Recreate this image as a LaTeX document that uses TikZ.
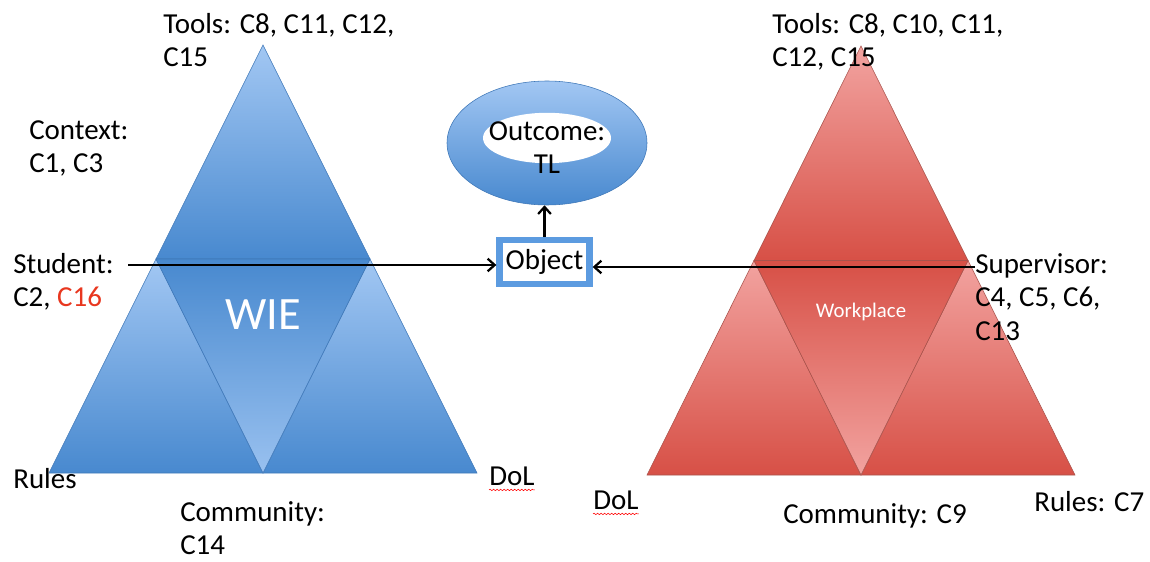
\documentclass[tikz,border=0pt]{standalone}
\usepackage{fontspec}
\setmainfont{Carlito}
\usetikzlibrary{calc,arrows.meta,shapes.geometric,decorations.pathmorphing}

\definecolor{bluetop}{HTML}{A2C7F3}
\definecolor{bluebot}{HTML}{4889CF}
\definecolor{blueedge}{HTML}{3F78B8}
\definecolor{redtop}{HTML}{F2A3A0}
\definecolor{redbot}{HTML}{D75046}
\definecolor{rededge}{HTML}{A9534C}
\definecolor{objblue}{HTML}{5C9BE0}
\definecolor{hotred}{HTML}{E8371F}

\tikzset{
    txt/.style={anchor=north west, inner sep=0pt, align=left, font=\fontsize{20.6pt}{23.8pt}\selectfont},
    bluepart/.style={draw=blueedge, line width=0.4pt, top color=bluetop, bottom color=bluebot},
    bluemid/.style={draw=blueedge, line width=0.4pt, top color=bluebot, bottom color=bluetop!90!bluebot},
    redpart/.style={draw=rededge, line width=0.4pt, top color=redtop, bottom color=redbot},
    redmid/.style={draw=rededge, line width=0.4pt, top color=redbot, bottom color=redtop},
    spell/.style={draw=red, line width=0.4pt, decorate, decoration={snake, amplitude=0.5pt, segment length=2.5pt}},
}

\begin{document}
\begin{tikzpicture}[>={Straight Barb[length=5pt,width=9pt]}]
    \useasboundingbox (0,0) rectangle (28.75,14.025);

    % WIE triangle
    \coordinate (wT) at (6.575,12.9);
    \coordinate (wL) at (1.225,2.2);
    \coordinate (wR) at (11.925,2.2);
    \coordinate (wML) at ($(wT)!0.5!(wL)$);
    \coordinate (wMR) at ($(wT)!0.5!(wR)$);
    \coordinate (wMB) at ($(wL)!0.5!(wR)$);
    \path[bluepart] (wT) -- (wML) -- (wMR) -- cycle;
    \path[bluepart] (wML) -- (wL) -- (wMB) -- cycle;
    \path[bluepart] (wMR) -- (wMB) -- (wR) -- cycle;
    \path[bluemid] (wML) -- (wMR) -- (wMB) -- cycle;
    \node[text=white, font=\fontsize{33pt}{38pt}\selectfont] (wie) at (6.575,6.15) {WIE};

    % Workplace triangle
    \coordinate (pT) at (21.525,12.875);
    \coordinate (pL) at (16.175,2.15);
    \coordinate (pR) at (26.875,2.15);
    \coordinate (pML) at ($(pT)!0.5!(pL)$);
    \coordinate (pMR) at ($(pT)!0.5!(pR)$);
    \coordinate (pMB) at ($(pL)!0.5!(pR)$);
    \path[redpart] (pT) -- (pML) -- (pMR) -- cycle;
    \path[redpart] (pML) -- (pL) -- (pMB) -- cycle;
    \path[redpart] (pMR) -- (pMB) -- (pR) -- cycle;
    \path[redmid] (pML) -- (pMR) -- (pMB) -- cycle;
    \node[text=white, font=\fontsize{14.8pt}{18pt}\selectfont] (work) at (21.525,6.225) {Workplace};

    % outcome and object
    \node[ellipse, minimum width=5cm, minimum height=3.1cm, draw=blueedge, line width=0.4pt,
          top color=bluetop, bottom color=bluebot] (outc) at (13.675,10.45) {};
    \fill[white] (13.675,10.575) ellipse (1.6 and 0.63);
    \node[txt, anchor=north, align=center] (outtxt) at (13.675,11.0) {Outcome:\\TL};
    \node[draw=objblue, line width=4.5pt, fill=white, minimum width=2.25cm, minimum height=1.1cm,
          inner sep=0pt, font=\fontsize{20.6pt}{23.8pt}\selectfont] (obj) at (13.6125,7.475) {Object};

    % labels, left
    \node[txt] (toolsL) at (4.075,13.7) {Tools: C8, C11, C12,\\C15};
    \node[txt] (contextL) at (0.725,11.025) {Context:\\C1, C3};
    \node[txt] (studentL) at (0.325,7.7) {Student:\\C2, \textcolor{hotred}{C16}};
    \node[txt] (rulesL) at (0.325,2.325) {Rules};
    \node[txt] (dolL) at (12.225,2.35) {DoL};
    \node[txt] (communityL) at (4.5,1.5) {Community:\\C14};

    % labels, right
    \node[txt] (toolsR) at (19.3,13.7) {Tools: C8, C10, C11,\\C12, C15};
    \node[txt] (supervisorR) at (24.375,7.7) {Supervisor:\\C4, C5, C6,\\C13};
    \node[txt] (dolR) at (14.825,1.75) {DoL};
    \node[txt] (communityR) at (19.575,1.45) {Community: C9};
    \node[txt] (rulesR) at (25.85,1.75) {Rules: C7};

    \path[spell] ($(dolL.south west)+(0,-0.09)$) -- ($(dolL.south east)+(0,-0.09)$);
    \path[spell] ($(dolR.south west)+(0,-0.09)$) -- ($(dolR.south east)+(0,-0.09)$);

    % arrows
    \coordinate (stu) at (3.2,7.4);
    \coordinate (sup) at (24.375,7.35);
    \begin{scope}[every edge/.style={draw, line width=1.6pt}]
        \path [->] (stu) edge (stu -| obj.west);
        \path [->] (sup) edge (sup -| obj.east);
        \path [->] (obj.north) edge (obj.north |- outc.south);
    \end{scope}
\end{tikzpicture}
\end{document}
